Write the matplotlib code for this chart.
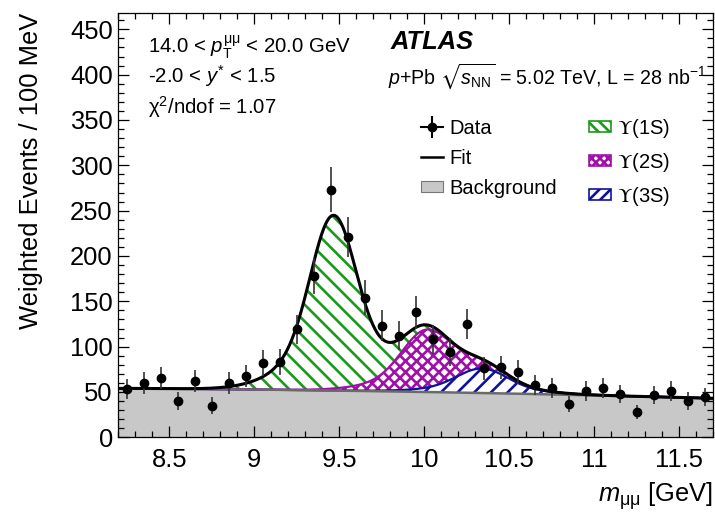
import numpy as np
import matplotlib
matplotlib.use("Agg")
import matplotlib.pyplot as plt
from matplotlib.lines import Line2D
from matplotlib.patches import Patch
from matplotlib.ticker import MultipleLocator

plt.rcParams['font.family'] = ['Liberation Sans', 'DejaVu Sans']
plt.rcParams['mathtext.fontset'] = 'custom'
plt.rcParams['mathtext.rm'] = 'Liberation Sans'
plt.rcParams['mathtext.it'] = 'Liberation Sans:italic'
plt.rcParams['mathtext.bf'] = 'Liberation Sans:bold'
plt.rcParams['mathtext.sf'] = 'Liberation Sans'
plt.rcParams['mathtext.fallback'] = 'stixsans'
plt.rcParams['hatch.linewidth'] = 1.9

# ---------------- data ----------------
mass = [8.25, 8.35, 8.45, 8.55, 8.65, 8.75, 8.85, 8.95, 9.05, 9.15,
        9.25, 9.35, 9.45, 9.55, 9.65, 9.75, 9.85, 9.95, 10.05, 10.15,
        10.25, 10.35, 10.45, 10.55, 10.65, 10.75, 10.85, 10.95, 11.05, 11.15,
        11.25, 11.35, 11.45, 11.55, 11.65]
counts = [53, 60, 65, 40, 62, 35, 60, 68, 82, 83,
          119, 178, 273, 221, 154, 123, 112, 138, 108, 94,
          125, 76, 77, 72, 58, 54, 37, 51, 54, 48,
          28, 47, 51, 40, 44]
errors = [11, 12, 12, 10, 12, 9, 12, 12, 14, 14,
          16, 20, 25, 22, 19, 17, 16, 18, 16, 15,
          17, 13, 13, 13, 11, 11, 9, 11, 11, 10,
          8, 10, 11, 10, 10]

# fit model parameters
bkg_coef = [50.0, -3.2, -0.54]          # polynomial in (m - 10)
state_mass = [9.465, 10.01, 10.34]       # Y(1S), Y(2S), Y(3S)
state_amp = [191.0, 64.0, 27.0]
core_sigma_1s = 0.13
wide_sigma_1s = 0.26
wide_frac = 0.25

x_ticks = [8.5, 9, 9.5, 10, 10.5, 11, 11.5]
x_tick_labels = ['8.5', '9', '9.5', '10', '10.5', '11', '11.5']
y_ticks = [0, 50, 100, 150, 200, 250, 300, 350, 400, 450]

col_1s = '#1a9a1a'
col_2s = '#a010a8'
col_3s = '#1010a0'
col_bkg = '#c8c8c8'
col_bkg_line = '#6a6a6a'

# ---------------- model ----------------
m = np.linspace(8.2, 11.7, 800)
dm = m - 10.0
bkg = bkg_coef[0] + bkg_coef[1] * dm + bkg_coef[2] * dm ** 2


def state_shape(x, mu, amp):
    scale = mu / state_mass[0]
    s1 = core_sigma_1s * scale
    s2 = wide_sigma_1s * scale
    return amp * ((1 - wide_frac) * np.exp(-0.5 * ((x - mu) / s1) ** 2)
                  + wide_frac * np.exp(-0.5 * ((x - mu) / s2) ** 2))


s1 = state_shape(m, state_mass[0], state_amp[0])
s2 = state_shape(m, state_mass[1], state_amp[1])
s3 = state_shape(m, state_mass[2], state_amp[2])
lvl3 = bkg + s3
lvl2 = lvl3 + s2
lvl1 = lvl2 + s1

# ---------------- figure ----------------
fig = plt.figure(figsize=(7.15, 5.12), dpi=100)
ax = fig.add_axes([0.1655, 0.1459, 0.8317, 0.8287])

ax.fill_between(m, 0, bkg, facecolor=col_bkg, edgecolor='none', zorder=1)
ax.fill_between(m, bkg, lvl3, facecolor='white', edgecolor=col_3s, hatch='//', linewidth=0, zorder=2)
ax.fill_between(m, lvl3, lvl2, facecolor='white', edgecolor=col_2s, hatch='xxx', linewidth=0, zorder=2)
ax.fill_between(m, lvl2, lvl1, facecolor='white', edgecolor=col_1s, hatch='\\\\', linewidth=0, zorder=2)
ax.plot(m, lvl3, color=col_3s, lw=1.6, zorder=3)
ax.plot(m, lvl2, color=col_2s, lw=1.6, zorder=3)
ax.plot(m, bkg, color=col_bkg_line, lw=1.8, zorder=3)
ax.plot(m, lvl1, color='black', lw=2.2, zorder=4)

ax.errorbar(mass, counts, yerr=errors, fmt='o', color='black', ms=6,
            ecolor='#333333', elinewidth=1.2, capsize=0, zorder=5)

ax.set_xlim(8.2, 11.7)
ax.set_ylim(0, 468)
ax.set_xticks(x_ticks)
ax.set_xticklabels(x_tick_labels)
ax.set_yticks(y_ticks)
ax.xaxis.set_minor_locator(MultipleLocator(0.1))
ax.yaxis.set_minor_locator(MultipleLocator(10))
ax.tick_params(which='both', direction='in', top=True, right=True, width=0.9)
ax.tick_params(which='major', length=7.9)
ax.tick_params(which='minor', length=4.0)
ax.tick_params(axis='x', which='major', labelsize=18.4, pad=8)
ax.tick_params(axis='y', which='major', labelsize=18.4, pad=4)
for sp in ax.spines.values():
    sp.set_linewidth(0.9)

ax.set_ylabel('Weighted Events / 100 MeV', fontsize=18.4, loc='top')
ax.yaxis.set_label_coords(-0.127, 1.0)
ax.set_xlabel(r'$m_{\mathrm{\mu\mu}}$ [GeV]', fontsize=18.4, loc='right')
ax.xaxis.set_label_coords(1.0, -0.102)

fs_txt = 14.7
ax.text(0.050, 0.906, r'14.0 < $p_{\mathrm{T}}^{\mathrm{\mu\mu}}$ < 20.0 GeV', transform=ax.transAxes,
        fontsize=fs_txt, va='baseline', ha='left')
ax.text(0.050, 0.835, r'-2.0 < $y^{*}$ < 1.5', transform=ax.transAxes,
        fontsize=fs_txt, va='baseline', ha='left')
ax.text(0.050, 0.762, r'$\mathrm{\chi}^{2}$/ndof = 1.07', transform=ax.transAxes,
        fontsize=fs_txt, va='baseline', ha='left')
ax.text(0.457, 0.915, 'ATLAS', transform=ax.transAxes, fontsize=18.4,
        fontweight='bold', fontstyle='italic', va='baseline', ha='left')
ax.text(0.4535, 0.833, r'$p$+Pb $\sqrt{s_{\mathrm{NN}}}$ = 5.02 TeV, L = 28 nb$^{\mathrm{-1}}$',
        transform=ax.transAxes, fontsize=14.1, va='baseline', ha='left')

# legend
h_data = (Line2D([], [], color='black', lw=1.5),
          Line2D([], [], color='black', marker='|', ms=16, mew=1.5, ls='none'),
          Line2D([], [], color='black', marker='o', ms=6, ls='none'))
h_fit = Line2D([], [], color='black', lw=1.8)
h_bkg = Patch(facecolor=col_bkg, edgecolor='#777777', lw=0.8)
h_1s = Patch(facecolor='white', edgecolor=col_1s, hatch='\\\\\\', lw=1.2)
h_2s = Patch(facecolor='white', edgecolor=col_2s, hatch='xxxx', lw=1.2)
h_3s = Patch(facecolor='white', edgecolor=col_3s, hatch='///', lw=1.2)
leg = ax.legend([h_data, h_fit, h_bkg, h_1s, h_2s, h_3s],
                ['Data', 'Fit', 'Background', r'$\Upsilon$(1S)', r'$\Upsilon$(2S)', r'$\Upsilon$(3S)'],
                ncol=2, loc='upper left', bbox_to_anchor=(0.509, 0.756), frameon=False,
                fontsize=14.5, handlelength=1.1, handleheight=0.45, handletextpad=0.3,
                columnspacing=1.6, labelspacing=0.55, borderpad=0, borderaxespad=0)
for t in leg.get_texts()[3:]:
    t.set_math_fontfamily('stix')

fig.savefig('out.png', dpi=100)
